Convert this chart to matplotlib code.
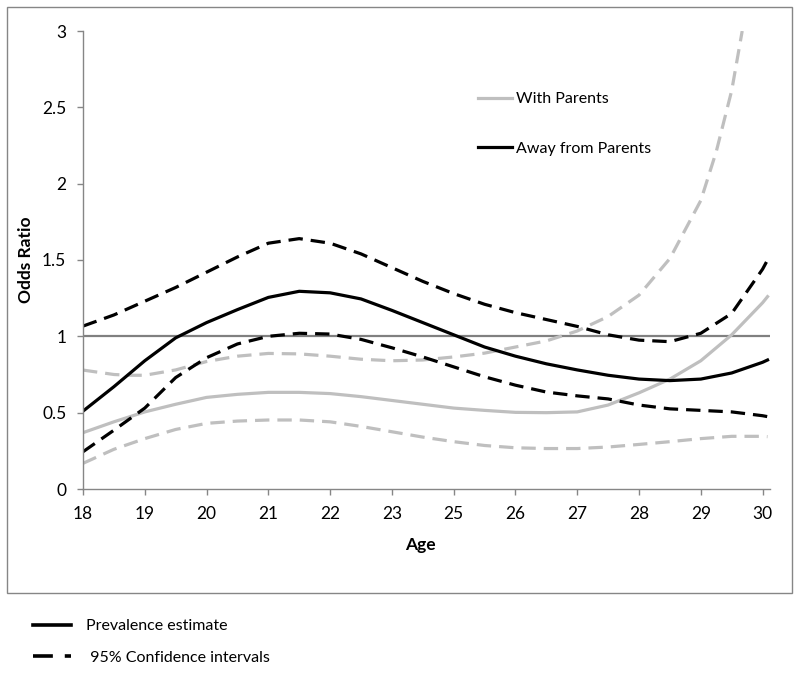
import matplotlib
matplotlib.use("Agg")
import matplotlib.pyplot as plt
from matplotlib.lines import Line2D
from matplotlib.patches import Rectangle

plt.rcParams['font.family'] = ['Lato', 'DejaVu Sans']

# tick labels of the age axis (24 is not shown on the original axis)
age_labels = ['18', '19', '20', '21', '22', '23', '25', '26', '27', '28', '29', '30']
age_pos = list(range(len(age_labels)))

# curve positions along the category axis
pos = [0, 0.5, 1, 1.5, 2, 2.5, 3, 3.5, 4, 4.5, 5, 5.5, 6, 6.5, 7, 7.5,
       8, 8.5, 9, 9.5, 10, 10.5, 11, 11.08]

# Away from parents
away_est = [0.51, 0.67, 0.84, 0.99, 1.09, 1.175, 1.255, 1.295, 1.285, 1.245, 1.17, 1.09,
            1.01, 0.93, 0.87, 0.82, 0.78, 0.745, 0.72, 0.71, 0.72, 0.76, 0.83, 0.845]
away_hi = [1.067, 1.14, 1.23, 1.32, 1.42, 1.52, 1.61, 1.64, 1.61, 1.54, 1.45, 1.36,
           1.28, 1.21, 1.155, 1.11, 1.065, 1.01, 0.975, 0.965, 1.02, 1.15, 1.44, 1.50]
away_lo = [0.244, 0.385, 0.53, 0.73, 0.86, 0.95, 1.00, 1.02, 1.015, 0.98, 0.925, 0.865,
           0.80, 0.735, 0.68, 0.635, 0.61, 0.59, 0.55, 0.525, 0.515, 0.505, 0.48, 0.474]

# With parents
with_est = [0.369, 0.44, 0.505, 0.555, 0.60, 0.62, 0.633, 0.633, 0.625, 0.605, 0.58, 0.555,
            0.53, 0.515, 0.502, 0.50, 0.505, 0.55, 0.63, 0.72, 0.84, 1.01, 1.22, 1.26]
with_lo = [0.168, 0.26, 0.33, 0.39, 0.43, 0.445, 0.452, 0.452, 0.44, 0.41, 0.375, 0.34,
           0.31, 0.285, 0.27, 0.265, 0.265, 0.275, 0.292, 0.31, 0.33, 0.345, 0.345, 0.343]
with_hi_pos = [0, 0.5, 0.75, 1, 1.5, 2, 2.5, 3, 3.5, 4, 4.5, 5, 5.5, 6, 6.5, 7, 7.5,
               8, 8.5, 9, 9.5, 10, 10.25, 10.5, 10.67]
with_hi = [0.779, 0.75, 0.745, 0.745, 0.78, 0.835, 0.87, 0.888, 0.885, 0.87, 0.85, 0.84,
           0.845, 0.865, 0.89, 0.93, 0.97, 1.035, 1.13, 1.27, 1.51, 1.89, 2.21, 2.61, 3.0]

y_ticks = [0, 0.5, 1, 1.5, 2, 2.5, 3]
y_labels = ['0', '0.5', '1', '1.5', '2', '2.5', '3']

GRAY = '#bfbfbf'
AXIS = '#868686'
LW = 2.3
DASH = (4.5, 2.5)

fig = plt.figure(figsize=(8, 6.76), dpi=100)
ax = fig.add_axes([83 / 800, 1 - 489 / 676, 687 / 800, 458 / 676])

# outer chart border
fig.patches.append(Rectangle((7 / 800, 1 - 593 / 676), 785 / 800, 586 / 676,
                             transform=fig.transFigure, fill=False,
                             edgecolor=AXIS, linewidth=1))

ax.axhline(1, color='#808080', linewidth=1.6, zorder=1)

ax.plot(pos, with_lo, color=GRAY, linewidth=LW, dashes=DASH)
ax.plot(with_hi_pos, with_hi, color=GRAY, linewidth=LW, dashes=DASH)
l_with, = ax.plot(pos, with_est, color=GRAY, linewidth=LW)
ax.plot(pos, away_lo, color='black', linewidth=LW, dashes=DASH)
ax.plot(pos, away_hi, color='black', linewidth=LW, dashes=DASH)
l_away, = ax.plot(pos, away_est, color='black', linewidth=LW)

ax.set_xlim(0, 11.12)
ax.set_ylim(0, 3)
ax.set_xticks(age_pos, age_labels)
ax.set_yticks(y_ticks, y_labels)

for s in ['top', 'right']:
    ax.spines[s].set_visible(False)
for s in ['left', 'bottom']:
    ax.spines[s].set_color(AXIS)
    ax.spines[s].set_linewidth(1)
ax.tick_params(axis='both', direction='out', length=4, width=1, color=AXIS,
               labelsize=12.5, labelcolor='black')
ax.tick_params(axis='y', pad=8)
ax.tick_params(axis='x', pad=8)

ax.set_xlabel('Age', fontsize=12.5, fontweight='bold')
ax.set_ylabel('Odds Ratio', fontsize=12.5, fontweight='bold')
ax.xaxis.set_label_coords(0.4905, -0.105)
ax.yaxis.set_label_coords(-0.071, 0.5)

# series legend inside the plot
ax.legend([l_with, l_away], ['With Parents', 'Away from Parents'],
          loc='upper left', bbox_to_anchor=(478 / 800, 1 - 92 / 676),
          bbox_transform=fig.transFigure, frameon=False, fontsize=11.5,
          handlelength=2.1, handletextpad=0.25, labelspacing=2.2, borderpad=0,
          borderaxespad=0)

# style legend below the chart
h_est = Line2D([], [], color='black', linewidth=2.6)
h_ci = Line2D([], [], color='black', linewidth=2.6, dashes=(5.5, 3.3))
fig.legend([h_est, h_ci], ['Prevalence estimate', ' 95% Confidence intervals'],
           loc='upper left', bbox_to_anchor=(33 / 800, 1 - 619 / 676),
           frameon=False, fontsize=11.5, handlelength=2.4, handletextpad=0.9,
           labelspacing=1.1, borderpad=0, borderaxespad=0)

fig.savefig('out.png', dpi=100)
